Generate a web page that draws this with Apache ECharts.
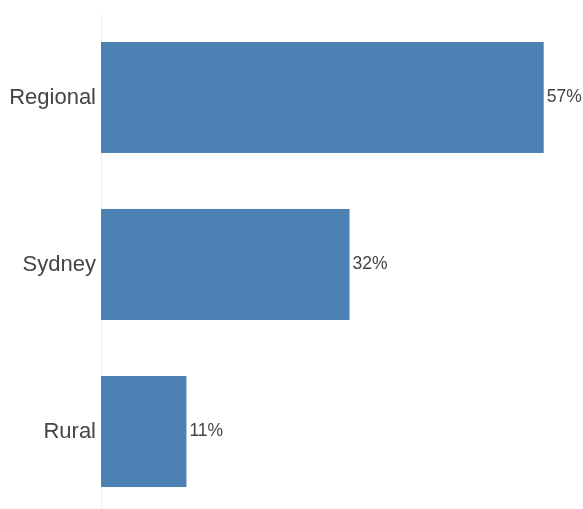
<!DOCTYPE html>
<html>
<head>
<meta charset="utf-8">
<script src="https://cdn.jsdelivr.net/npm/echarts@6/dist/echarts.min.js"></script>
<style>
  html, body { margin: 0; padding: 0; background: #fff; overflow: hidden; }
  #chart { width: 583px; height: 530px; }
</style>
</head>
<body>
<div id="chart"></div>
<script>
// Share of respondents by location
const categories = ['Regional', 'Sydney', 'Rural'];
const shares = [57, 32, 11];

const chart = echarts.init(document.getElementById('chart'), null, { renderer: 'canvas' });
chart.setOption({
  animation: false,
  grid: { left: 101, top: 14, width: 466, height: 501, containLabel: false },
  xAxis: {
    type: 'value',
    min: 0,
    max: 60,
    show: false
  },
  yAxis: {
    type: 'category',
    data: categories,
    inverse: true,
    axisLine: { show: true, lineStyle: { color: '#eeeeee', width: 1 } },
    axisTick: { show: false },
    splitLine: { show: false },
    axisLabel: {
      color: '#444444',
      fontFamily: 'Liberation Sans, Arial, sans-serif',
      fontSize: 22,
      margin: 5
    }
  },
  series: [{
    type: 'bar',
    data: shares,
    barCategoryGap: '33.5%',
    itemStyle: { color: '#4e81b3' },
    label: {
      show: true,
      position: 'right',
      distance: 3,
      formatter: p => p.value + '%',
      color: '#444444',
      fontFamily: 'Liberation Sans, Arial, sans-serif',
      fontSize: 17.5
    }
  }]
});
</script>
</body>
</html>
